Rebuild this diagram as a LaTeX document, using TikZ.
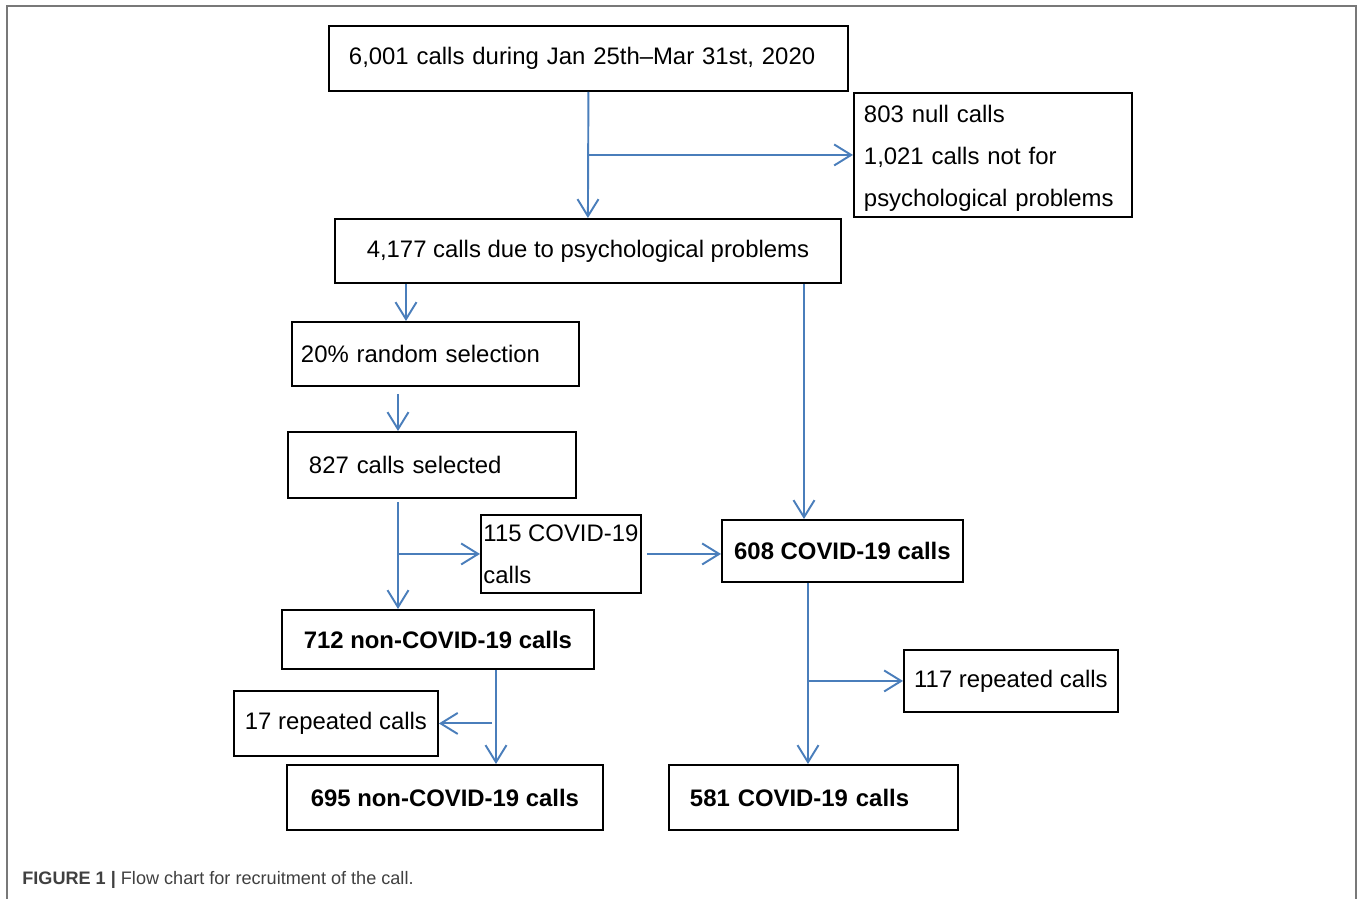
\documentclass[tikz,border=0pt]{standalone}
\usepackage{fontspec}
\setmainfont{Liberation Sans}
\usetikzlibrary{arrows.meta}
\definecolor{flowblue}{RGB}{74,126,187}
\definecolor{framegray}{RGB}{120,120,120}

\begin{document}
\begin{tikzpicture}[x=0.02cm, y=-0.02cm,
    box/.style={draw, line width=1.1pt, anchor=north west, inner ysep=0pt,
        font=\fontsize{13.6}{23.9}\selectfont},
    arr/.style={flowblue, line width=1.1pt, -{Straight Barb[length=0.34cm,width=0.42cm]}}]
    \useasboundingbox (0,0) rectangle (1360,899);

    % Frame
    \draw[framegray, line width=1pt] (7,899) -- (7,6) -- (1356,6) -- (1356,899);

    % Top
    \node[box, inner xsep=0.4cm, text width=9.58cm, minimum height=1.3cm, align=left] (all) at (328,25) {6,001 calls during Jan 25th–Mar 31st, 2020};
    \node[box, inner xsep=0.2cm, text width=5.16cm, minimum height=2.48cm, align=left] (null) at (853,92) {\rule{0pt}{0.5cm}803 null calls\\1,021 calls not for\\psychological problems};
    \node[box, minimum width=10.12cm, minimum height=1.28cm] (psy) at (334,218) {4,177 calls due to psychological problems};

    % Left branch
    \node[box, inner xsep=0.18cm, text width=5.38cm, minimum height=1.28cm, align=left] (rand) at (291,321) {20\% random selection};
    \node[box, inner xsep=0.42cm, text width=4.92cm, minimum height=1.32cm, align=left] (sel) at (287,431) {827 calls selected};
    \node[box, inner xsep=0.02cm, minimum width=3.2cm, minimum height=1.56cm, align=left] (cov115) at (480,514) {115 COVID-19\\calls};
    \node[box, minimum width=6.24cm, minimum height=1.18cm] (non712) at (281,609) {\textbf{712 non-COVID-19 calls}};
    \node[box, minimum width=4.08cm, minimum height=1.3cm] (rep17) at (233,690) {17 repeated calls};
    \node[box, minimum width=6.32cm, minimum height=1.3cm] (non695) at (286,764) {\textbf{695 non-COVID-19 calls}};

    % Right branch
    \node[box, minimum width=4.82cm, minimum height=1.24cm] (cov608) at (721,519) {\textbf{608 COVID-19 calls}};
    \node[box, minimum width=4.28cm, minimum height=1.24cm] (rep117) at (903,649) {117 repeated calls};
    \node[box, inner xsep=0.42cm, text width=4.94cm, minimum height=1.3cm, align=left] (cov581) at (668,764) {\textbf{581 COVID-19 calls}};

    % Arrow columns
    \coordinate (ca) at (406,0);
    \coordinate (cb) at (398,0);
    \coordinate (cc) at (804,0);
    \coordinate (cd) at (808,0);
    \coordinate (ce) at (496,0);

    \draw[arr] (all.south) -- (psy.north);
    \draw[arr] (all.south |- null.west) -- (null.west);
    \draw[arr] (psy.south -| ca) -- (rand.north -| ca);
    \draw[arr, shorten <=0.14cm] (rand.south -| cb) -- (sel.north -| cb);
    \draw[arr, shorten <=0.06cm] (sel.south -| cb) -- (non712.north -| cb);
    \draw[arr] (cov115.west -| cb) -- (cov115.west);
    \draw[arr, shorten <=0.1cm] (cov115.east) -- (cov115.east -| cov608.west);
    \draw[arr] (psy.south -| cc) -- (cov608.north -| cc);
    \draw[arr] (cov608.south -| cd) -- (cov581.north -| cd);
    \draw[arr] (rep117.west -| cd) -- (rep117.west);
    \draw[arr] (non712.south -| ce) -- (non695.north -| ce);
    \draw[arr, shorten <=0.08cm] (rep17.east -| ce) -- (rep17.east);

    % Caption
    \node[anchor=west, inner sep=0pt, font=\fontsize{10.3}{12}\selectfont, text=black!75] (caption) at (22,880) {\textbf{FIGURE 1 |} Flow chart for recruitment of the call.};
\end{tikzpicture}
\end{document}
